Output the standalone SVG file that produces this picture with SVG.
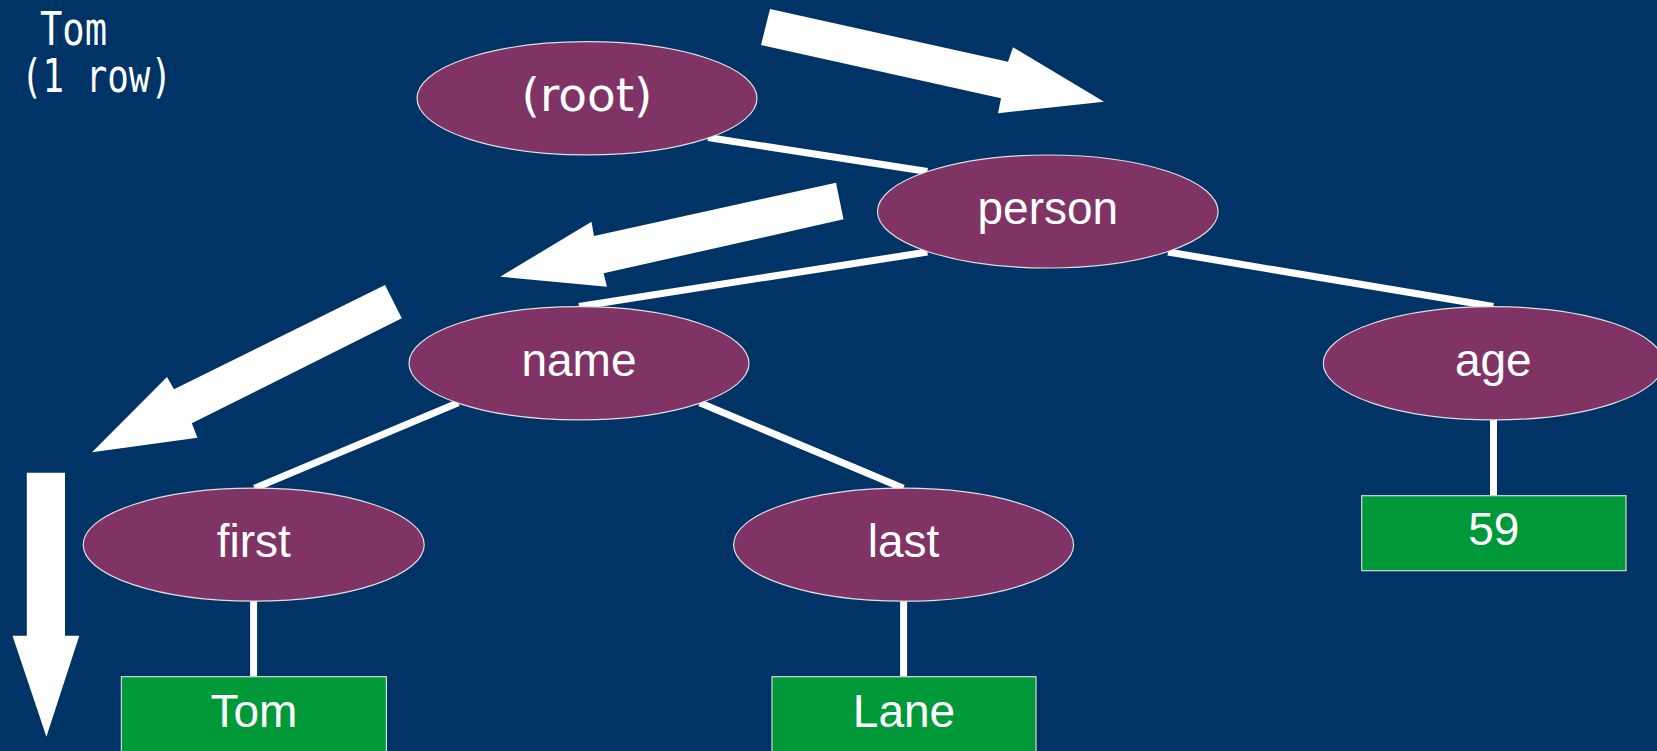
<svg xmlns="http://www.w3.org/2000/svg" width="1657" height="751" viewBox="0 0 1657 751">
  <style>
    .node ellipse { fill: #803466; stroke: #e0e0e0; stroke-width: 1.2; }
    .leaf rect { fill: #00993a; stroke: #d8d8d8; stroke-width: 1.2; }
    .lbl { font-family: "Liberation Sans", Arial, sans-serif; font-size: 46px; fill: #ffffff; text-anchor: middle; }
    .root-lbl { font-family: "DejaVu Sans", sans-serif; font-size: 47px; }
    .edge { stroke: #ffffff; stroke-width: 7; fill: none; stroke-linecap: butt; }
    .flow { fill: #ffffff; }
    .caption { font-family: "DejaVu Sans Mono", "Liberation Mono", monospace; font-size: 46px; fill: #ffffff; }
  </style>

  <!-- background -->
  <rect x="0" y="0" width="1657" height="751" fill="#003466"/>

  <!-- caption, two lines in one block -->
  <g id="caption">
    <text class="caption"><tspan x="40" y="45" textLength="67" lengthAdjust="spacingAndGlyphs">Tom</tspan><tspan x="21" y="92" textLength="151" lengthAdjust="spacingAndGlyphs">(1 row)</tspan></text>
  </g>

  <!-- traversal arrows -->
  <g id="traversal">
    <polygon class="flow" points="770,9 1008,61.7 1013,47.3 1104,101.7 998,113.3 1001,98.3 761,45"/>
    <polygon class="flow" points="836,182.7 594,236 591.5,221.7 500.3,276.7 607,286.7 603.6,273.3 843.5,219.3"/>
    <polygon class="flow" points="385,285 174,389.3 167,377 92,452.3 197.5,437.7 191.8,423.3 401.8,318.3"/>
    <polygon class="flow" points="26.8,472.7 65,472.7 65,635.7 79.3,635.7 46.4,736.7 12.5,635.7 26.8,635.7"/>
  </g>

  <!-- tree edges -->
  <g id="connectors">
    <line class="edge" x1="708" y1="137.5" x2="927.4" y2="171.5"/>
    <line class="edge" x1="927.4" y1="252" x2="579" y2="306.5"/>
    <line class="edge" x1="1168" y1="252" x2="1493.3" y2="306.5"/>
    <line class="edge" x1="458.2" y1="402.7" x2="254.6" y2="488.3"/>
    <line class="edge" x1="699.8" y1="402.7" x2="903.3" y2="488.3"/>
    <line class="edge" x1="253.6" y1="601" x2="253.6" y2="676.7"/>
    <line class="edge" x1="903.6" y1="601" x2="903.6" y2="676.7"/>
    <line class="edge" x1="1493.5" y1="420" x2="1493.5" y2="495.7"/>
  </g>

  <!-- element nodes -->
  <g id="node-root" class="node">
    <ellipse cx="587" cy="98.3" rx="170" ry="56.6"/>
    <text class="lbl root-lbl" x="587" y="111">(root)</text>
  </g>
  <g id="node-person" class="node">
    <ellipse cx="1047.8" cy="211.5" rx="170.3" ry="56.5"/>
    <text class="lbl" x="1047.8" y="223.5">person</text>
  </g>
  <g id="node-name" class="node">
    <ellipse cx="579" cy="363.3" rx="170" ry="56.6"/>
    <text class="lbl" x="579" y="375.5">name</text>
  </g>
  <g id="node-age" class="node">
    <ellipse cx="1493.3" cy="363.3" rx="170" ry="56.6"/>
    <text class="lbl" x="1493.3" y="375.5">age</text>
  </g>
  <g id="node-first" class="node">
    <ellipse cx="253.7" cy="544.7" rx="170.5" ry="56.5"/>
    <text class="lbl" x="253.7" y="557">first</text>
  </g>
  <g id="node-last" class="node">
    <ellipse cx="903.6" cy="544.7" rx="170" ry="56.5"/>
    <text class="lbl" x="903.6" y="557">last</text>
  </g>

  <!-- value leaves -->
  <g id="value-tom" class="leaf">
    <rect x="121.4" y="676.7" width="265" height="75"/>
    <text class="lbl" x="253.9" y="726.5">Tom</text>
  </g>
  <g id="value-lane" class="leaf">
    <rect x="772" y="676.7" width="264" height="75"/>
    <text class="lbl" x="904" y="726.5">Lane</text>
  </g>
  <g id="value-59" class="leaf">
    <rect x="1361.7" y="495.7" width="264.3" height="75"/>
    <text class="lbl" x="1493.8" y="545">59</text>
  </g>
</svg>
